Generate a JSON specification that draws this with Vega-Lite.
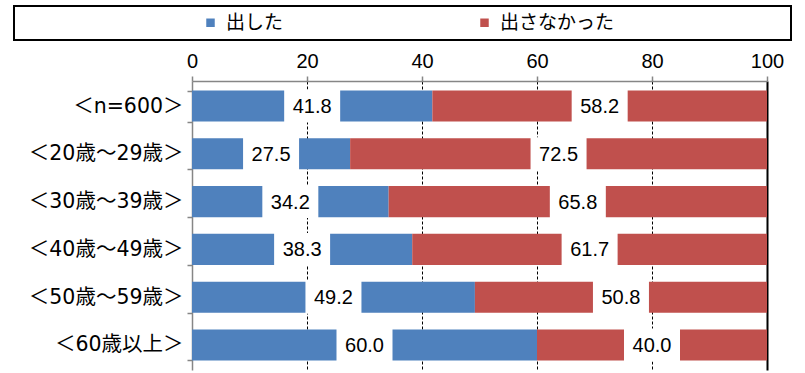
{
  "$schema": "https://vega.github.io/schema/vega-lite/v6.json",
  "width": 575,
  "height": 289,
  "autosize": {"type": "none"},
  "padding": {"left": 192, "top": 81, "right": 38, "bottom": 3},
  "background": "white",
  "config": {"view": {"stroke": null}},
  "data": {
    "values": [
      {"group": "＜n=600＞", "kind": "出した", "value": 41.8},
      {"group": "＜n=600＞", "kind": "出さなかった", "value": 58.2},
      {"group": "＜20歳～29歳＞", "kind": "出した", "value": 27.5},
      {"group": "＜20歳～29歳＞", "kind": "出さなかった", "value": 72.5},
      {"group": "＜30歳～39歳＞", "kind": "出した", "value": 34.2},
      {"group": "＜30歳～39歳＞", "kind": "出さなかった", "value": 65.8},
      {"group": "＜40歳～49歳＞", "kind": "出した", "value": 38.3},
      {"group": "＜40歳～49歳＞", "kind": "出さなかった", "value": 61.7},
      {"group": "＜50歳～59歳＞", "kind": "出した", "value": 49.2},
      {"group": "＜50歳～59歳＞", "kind": "出さなかった", "value": 50.8},
      {"group": "＜60歳以上＞", "kind": "出した", "value": 60.0},
      {"group": "＜60歳以上＞", "kind": "出さなかった", "value": 40.0}
    ]
  },
  "encoding": {
    "y": {
      "field": "group",
      "type": "nominal",
      "sort": null,
      "title": null,
      "scale": {"paddingInner": 0.35, "paddingOuter": 0.2},
      "axis": {
        "labelFont": "DejaVu Sans, Noto Sans CJK JP",
        "labelFontSize": 20.5,
        "labelColor": "black",
        "labelPadding": 4,
        "labelLimit": 300,
        "domainColor": "#868686",
        "domainWidth": 1.5,
        "tickColor": "#868686",
        "tickSize": 5,
        "tickWidth": 1.5,
        "tickBand": "extent"
      }
    },
    "order": {"field": "kind", "sort": "descending"}
  },
  "layer": [
    {
      "mark": {"type": "bar"},
      "encoding": {
        "x": {
          "field": "value",
          "type": "quantitative",
          "stack": "zero",
          "scale": {"domain": [0, 100]},
          "axis": {
            "orient": "top",
            "values": [0, 20, 40, 60, 80, 100],
            "title": null,
            "labelFont": "Liberation Sans",
            "labelFontSize": 20,
            "labelColor": "black",
            "labelPadding": 5,
            "labelFlush": false,
            "domainColor": "#868686",
            "domainWidth": 1.5,
            "tickColor": "#868686",
            "tickSize": 5,
            "tickWidth": 1.5,
            "grid": true,
            "gridColor": "black",
            "gridDash": {"condition": {"test": "datum.value === 100", "value": []}, "value": [3, 2]},
            "gridWidth": {"condition": {"test": "datum.value === 100", "value": 2}, "value": 1},
            "gridOpacity": {"condition": {"test": "datum.value === 0", "value": 0}, "value": 1}
          }
        },
        "color": {
          "field": "kind",
          "type": "nominal",
          "scale": {"domain": ["出した", "出さなかった"], "range": ["#4F81BD", "#C0504D"]},
          "legend": {
            "orient": "none",
            "legendX": -178,
            "legendY": -75,
            "direction": "horizontal",
            "title": " ",
            "titleOrient": "right",
            "titleFontSize": 10,
            "titlePadding": 170,
            "padding": 7,
            "strokeColor": "black",
            "fillColor": "white",
            "symbolType": "square",
            "symbolSize": 72,
            "symbolOffset": 180,
            "symbolStrokeWidth": 0,
            "symbolOpacity": 1,
            "labelFont": "Noto Sans CJK JP",
            "labelFontSize": 19,
            "labelColor": "black",
            "labelOffset": 6,
            "columnPadding": 11,
            "labelLimit": 600,
            "encode": {"legend": {"update": {"strokeWidth": {"value": 2}}}}
          }
        }
      }
    },
    {
      "mark": {"type": "tick", "color": "white", "thickness": 56, "size": 33, "opacity": 1},
      "encoding": {
        "x": {
          "field": "value",
          "type": "quantitative",
          "stack": "zero",
          "bandPosition": 0.5,
          "scale": {"domain": [0, 100]},
          "axis": {
            "orient": "top",
            "values": [0, 20, 40, 60, 80, 100],
            "title": null,
            "labelFont": "Liberation Sans",
            "labelFontSize": 20,
            "labelColor": "black",
            "labelPadding": 5,
            "labelFlush": false,
            "domainColor": "#868686",
            "domainWidth": 1.5,
            "tickColor": "#868686",
            "tickSize": 5,
            "tickWidth": 1.5,
            "grid": true,
            "gridColor": "black",
            "gridDash": {"condition": {"test": "datum.value === 100", "value": []}, "value": [3, 2]},
            "gridWidth": {"condition": {"test": "datum.value === 100", "value": 2}, "value": 1},
            "gridOpacity": {"condition": {"test": "datum.value === 0", "value": 0}, "value": 1}
          }
        },
        "detail": {"field": "kind"}
      }
    },
    {
      "mark": {"type": "text", "font": "Liberation Sans", "fontSize": 20, "color": "black", "align": "center", "baseline": "middle", "dy": 1},
      "encoding": {
        "x": {
          "field": "value",
          "type": "quantitative",
          "stack": "zero",
          "bandPosition": 0.5,
          "scale": {"domain": [0, 100]},
          "axis": {
            "orient": "top",
            "values": [0, 20, 40, 60, 80, 100],
            "title": null,
            "labelFont": "Liberation Sans",
            "labelFontSize": 20,
            "labelColor": "black",
            "labelPadding": 5,
            "labelFlush": false,
            "domainColor": "#868686",
            "domainWidth": 1.5,
            "tickColor": "#868686",
            "tickSize": 5,
            "tickWidth": 1.5,
            "grid": true,
            "gridColor": "black",
            "gridDash": {"condition": {"test": "datum.value === 100", "value": []}, "value": [3, 2]},
            "gridWidth": {"condition": {"test": "datum.value === 100", "value": 2}, "value": 1},
            "gridOpacity": {"condition": {"test": "datum.value === 0", "value": 0}, "value": 1}
          }
        },
        "detail": {"field": "kind"},
        "text": {"field": "value", "type": "quantitative", "format": ".1f"}
      }
    }
  ]
}
